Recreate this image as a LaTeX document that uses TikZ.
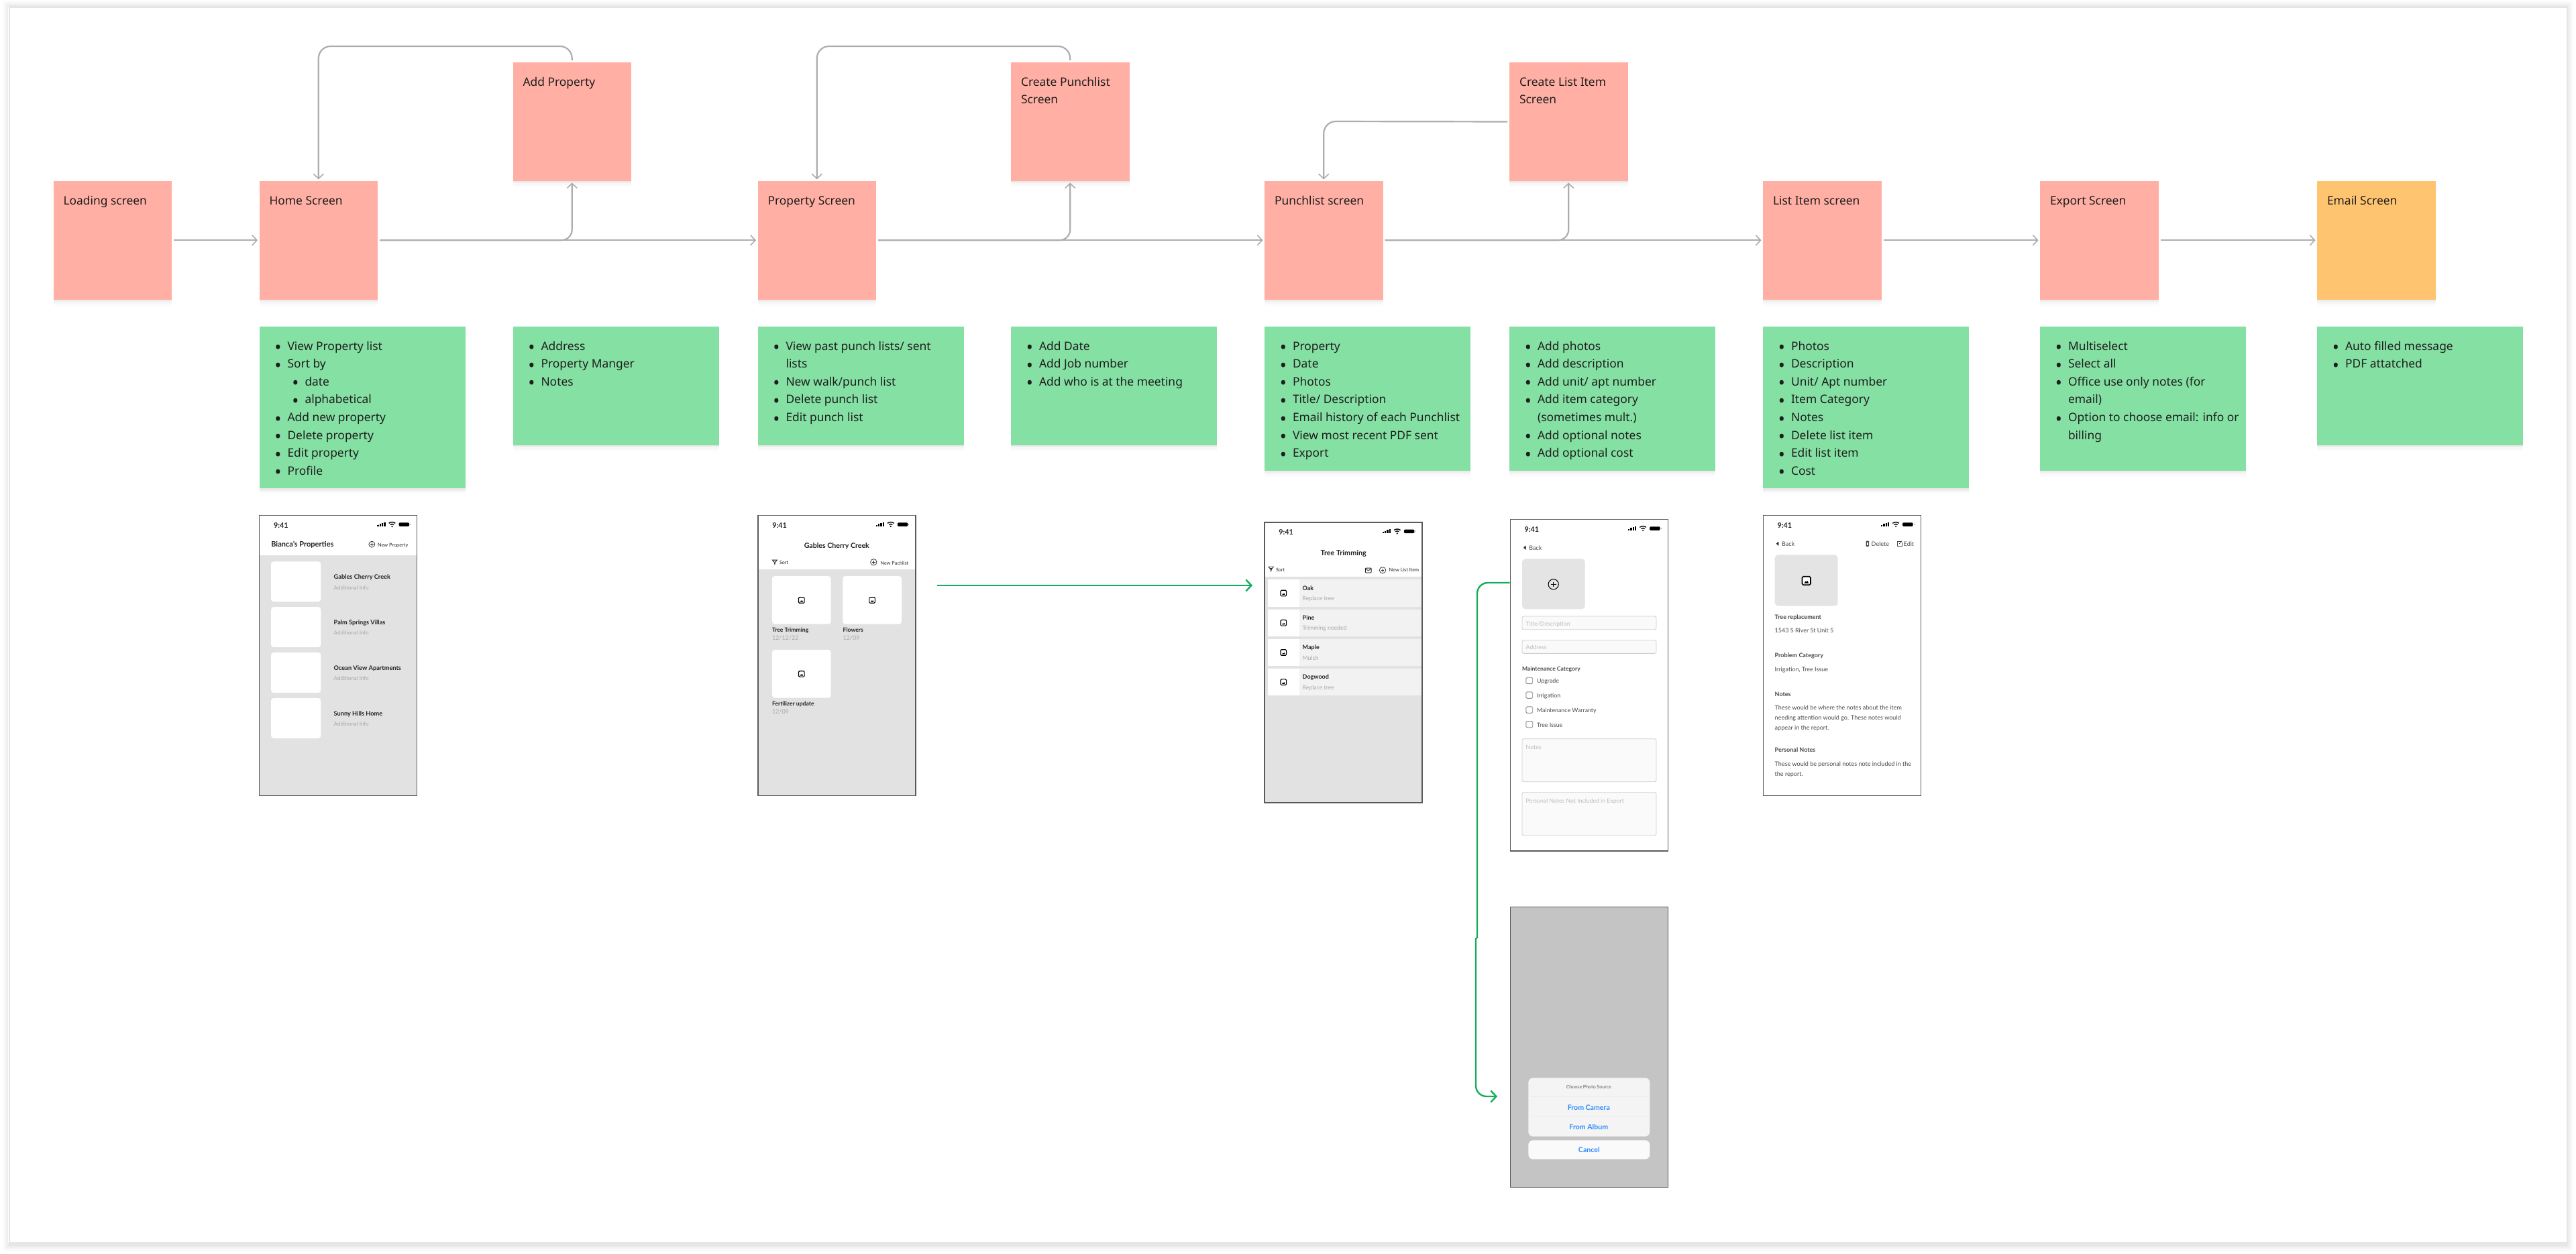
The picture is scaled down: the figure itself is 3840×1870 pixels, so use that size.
\documentclass[tikz,border=0pt]{standalone}
\usepackage{fontspec}
\setmainfont{Noto Sans}
\newfontfamily\latof{Lato}
\usetikzlibrary{arrows.meta}
\definecolor{redsticky}{HTML}{FFAFA3}
\definecolor{greensticky}{HTML}{85E0A3}
\definecolor{orangesticky}{HTML}{FFC470}
\definecolor{inkc}{HTML}{1E1E1E}
\definecolor{connc}{HTML}{ADADAD}
\definecolor{greenc}{HTML}{14AE5C}
\definecolor{phoneb}{HTML}{5A5A5A}
\definecolor{bodyc}{HTML}{E2E2E2}
\definecolor{greyt}{HTML}{A8A8A8}
\definecolor{fieldt}{HTML}{BDBDBD}
\definecolor{fieldb}{HTML}{CFCFCF}
\definecolor{bluet}{HTML}{2D8CFF}
\definecolor{txtd}{HTML}{222222}
\definecolor{txtm}{HTML}{4A4A4A}
\newcounter{lbl}
\newcommand{\lab}[4][]{\stepcounter{lbl}\node[lt,#1] (t\arabic{lbl}) at (#2,#3) {#4};}
\newcommand{\lam}[4][]{\stepcounter{lbl}\node[lc,#1] (t\arabic{lbl}) at (#2,#3) {#4};}
\newcommand{\bigdot}{{\fontsize{27}{10}\selectfont\raisebox{-5.6pt}{•}}}
\newcommand{\Bi}{\strut\hspace*{42pt}\llap{\bigdot\hspace{9pt}}}
\newcommand{\Bii}{\strut\hspace*{68pt}\llap{\bigdot\hspace{9pt}}}
\newcommand{\Bc}{\strut\hspace*{42pt}}
\newcommand{\sticky}[7]{%
  \node[#6,minimum width=#4 pt,minimum height=#5 pt,anchor=north west] (#1) at (#2,#3) {};
  \node[stxt,anchor=north west] (#1T) at (#1.north west) [yshift=-16.5pt] {#7};}
\newcommand{\statusb}[2]{%
  \begin{scope}[shift={(#1,#2)}]
    \lab[font=\latof\bfseries\fontsize{10.8}{12}\selectfont,yshift=-.6pt]{21.3}{14.6}{9:41}
    \foreach \bx/\bh in {175.7/2.5,179/3.8,182.3/5.1,185.6/6.4} \fill[black] (\bx,16.4) rectangle ++(2.4,-\bh);
    \fill[black] (197.8,16.4) circle[radius=1.2];
    \draw[black,line width=1.4] (195.2,13.8) .. controls (196.8,12.5) and (198.8,12.5) .. (200.4,13.8);
    \draw[black,line width=1.4] (193,11.6) .. controls (196,9.4) and (199.6,9.4) .. (202.6,11.6);
    \fill[black,rounded corners=1.4pt] (207.8,10.6) rectangle (223.4,16.2);
    \fill[black!35] (224.2,12.3) rectangle (225,14.5);
  \end{scope}}
\newcommand{\imgicon}[3]{%
  \draw[black,line width=#3*0.13,rounded corners=#3*0.15 pt,fill=white] (#1-#3/2,#2-#3/2) rectangle (#1+#3/2,#2+#3/2);
  \fill[black] (#1-#3*.26,#2+#3*.3) -- (#1-#3*.08,#2+#3*.04) -- (#1+#3*.02,#2+#3*.16) -- (#1+#3*.12,#2) -- (#1+#3*.28,#2+#3*.3) -- cycle;}
\newcommand{\pluscirc}[5][black]{%
  \draw[#1,line width=#4] (#2,#3) circle[radius=#5];
  \draw[#1,line width=#4] (#2-#5*.5,#3) -- (#2+#5*.5,#3) (#2,#3-#5*.5) -- (#2,#3+#5*.5);}
\newcommand{\funnel}[2]{%
  \draw[txtd,line width=.8] (#1,#2-3) -- (#1+7.4,#2-3) -- (#1+4.4,#2+.6) -- (#1+3.7,#2+3.4) -- (#1+3,#2+.6) -- cycle;
  \draw[txtd,line width=.6] (#1+1.5,#2-1.4) -- (#1+5.9,#2-1.4);}
\newcommand{\backtri}[2]{\fill[txtd] (#1,#2) -- (#1+3.6,#2-3.2) -- (#1+3.6,#2+3.2) -- cycle;}
\tikzset{
  softsh/.style={preaction={fill=black,fill opacity=.035,transform canvas={yshift=-1.5pt}},
    preaction={fill=black,fill opacity=.03,transform canvas={yshift=-3.5pt}},
    preaction={fill=black,fill opacity=.02,transform canvas={yshift=-6pt}},
    preaction={fill=black,fill opacity=.012,transform canvas={yshift=-9pt}}},
  notebase/.style={rectangle,inner sep=0pt,outer sep=0pt,softsh},
  rednote/.style={notebase,fill=redsticky},
  greennote/.style={notebase,fill=greensticky},
  orangenote/.style={notebase,fill=orangesticky},
  stxt/.style={inner sep=0pt,outer sep=0pt,text=inkc,align=left,font=\fontsize{17.4}{26.6}\selectfont},
  conn/.style={draw=connc,line width=2.2pt,-{Straight Barb[length=7pt,width=15pt,line width=1.6pt]},shorten <=3pt,shorten >=2.5pt},
  greenline/.style={draw=greenc,line width=2.4pt},
  greenconn/.style={greenline,-{Straight Barb[length=8pt,width=17pt,line width=2.4pt]}},
  phonebox/.style={rectangle,draw=phoneb,line width=1.4pt,inner sep=0pt,outer sep=0pt,anchor=north west,minimum width=235pt},
  lt/.style={inner sep=0pt,outer sep=0pt,anchor=mid west,yshift=-1.1pt,text=txtd,font=\latof\fontsize{9}{10}\selectfont},
  lc/.style={lt,anchor=mid},
  tbold/.style={font=\latof\bfseries\fontsize{#1}{10}\selectfont},
  treg/.style={font=\latof\fontsize{#1}{10}\selectfont},
  thumb/.style={fill=white,rounded corners=4pt},
  grey/.style={text=greyt},
  field/.style={draw=fieldb,line width=.9pt,fill=black!2,rounded corners=2.5pt},
  blueb/.style={text=bluet}
}
\begin{document}
\begin{tikzpicture}[x=1pt,y=-1pt]
\useasboundingbox (0,0) rectangle (3840,1870);
% panel
\foreach \d/\o in {10/.012,8/.016,6/.02,4/.025,2/.03}
  \fill[black,fill opacity=\o,rounded corners=3pt] (14-\d,11-\d) rectangle (3826+\d,1852+\d+4);
\fill[white] (12,10) rectangle (3828,1854);
\draw[black!10,line width=1.5pt,fill=white] (14,11) rectangle (3827,1853);

% ===== stickies
\sticky{loading}{79.5}{270}{176.5}{176.5}{rednote}{\hspace*{15pt}\strut Loading screen}
\sticky{home}{386.5}{270}{176.5}{176.5}{rednote}{\hspace*{15pt}\strut Home Screen}
\sticky{addprop}{764.5}{93}{176.5}{177}{rednote}{\hspace*{15pt}\strut Add Property}
\sticky{propsc}{1129.5}{270}{176.5}{176.5}{rednote}{\hspace*{15pt}\strut Property Screen}
\sticky{createpl}{1507}{93}{176.5}{177}{rednote}{\hspace*{15pt}\strut Create Punchlist\\\hspace*{15pt}\strut Screen}
\sticky{punchsc}{1885}{270}{176.5}{176.5}{rednote}{\hspace*{15pt}\strut Punchlist screen}
\sticky{createli}{2250}{93}{176.5}{177}{rednote}{\hspace*{15pt}\strut Create List Item\\\hspace*{15pt}\strut Screen}
\sticky{listsc}{2628}{270}{176.5}{176.5}{rednote}{\hspace*{15pt}\strut List Item screen}
\sticky{exportsc}{3041}{270}{176.5}{176.5}{rednote}{\hspace*{15pt}\strut Export Screen}
\sticky{emailsc}{3454}{270}{176.5}{176.5}{orangenote}{\hspace*{15pt}\strut Email Screen}

\sticky{ghome}{386.5}{487}{307}{241}{greennote}{\Bi View Property list\\\Bi Sort by\\\Bii date\\\Bii alphabetical\\\Bi Add new property\\\Bi Delete property\\\Bi Edit property\\\Bi Profile}
\sticky{gadd}{764.5}{487}{307}{176.5}{greennote}{\Bi Address\\\Bi Property Manger\\\Bi Notes}
\sticky{gprop}{1129.5}{487}{307}{176.5}{greennote}{\Bi View past punch lists/ sent\\\Bc lists\\\Bi New walk/punch list\\\Bi Delete punch list\\\Bi Edit punch list}
\sticky{gcreate}{1507}{487}{307}{176.5}{greennote}{\Bi Add Date\\\Bi Add Job number\\\Bi Add who is at the meeting}
\sticky{gpunch}{1885}{487}{307}{214.5}{greennote}{\Bi Property\\\Bi Date\\\Bi Photos\\\Bi Title/ Description\\\Bi Email history of each Punchlist\\\Bi View most recent PDF sent\\\Bi Export}
\sticky{gitem}{2250}{487}{307}{214.5}{greennote}{\Bi Add photos\\\Bi Add description\\\Bi Add unit/ apt number\\\Bi Add item category\\\Bc (sometimes mult.)\\\Bi Add optional notes\\\Bi Add optional cost}
\sticky{glist}{2628}{487}{307}{241}{greennote}{\Bi Photos\\\Bi Description\\\Bi Unit/ Apt number\\\Bi Item Category\\\Bi Notes\\\Bi Delete list item\\\Bi Edit list item\\\Bi Cost}
\sticky{gexport}{3041}{487}{307}{214.5}{greennote}{\Bi Multiselect\\\Bi Select all\\\Bi Office use only notes (for\\\Bc email)\\\Bi Option to choose email: info or\\\Bc billing}
\sticky{gemail}{3454}{487}{307}{176.5}{greennote}{\Bi Auto filled message\\\Bi PDF attatched}

% ===== connectors
\coordinate (topA) at (852.7,69);
\coordinate (topB) at (1595.2,69);
\coordinate (sideC) at (1973.2,181);
\draw[conn] (loading) -- (home);
\draw[conn] (home) -- (propsc);
\draw[conn] (propsc) -- (punchsc);
\draw[conn] (punchsc) -- (listsc);
\draw[conn] (listsc) -- (exportsc);
\draw[conn] (exportsc) -- (emailsc);
\draw[conn,rounded corners=16pt,shorten <=3pt] (home.east) -| (addprop.south);
\draw[conn,rounded corners=16pt] (propsc.east) -| (createpl.south);
\draw[conn,rounded corners=16pt] (punchsc.east) -| (createli.south);
\draw[conn,rounded corners=18pt] (addprop.north) -- (topA) -- (home.north |- topA) -- (home.north);
\draw[conn,rounded corners=18pt] (createpl.north) -- (topB) -- (propsc.north |- topB) -- (propsc.north);
\draw[conn,rounded corners=18pt] (createli.west) -- (sideC) -- (punchsc.north);

% ===== phone 1
\fill[bodyc] (386.7,828) rectangle (621.7,1186.7);
\foreach \ty in {837.3,905.2,973.1,1041}
  \fill[thumb] (404,\ty) rectangle (478.3,\ty+60);
\statusb{386.7}{768.7}
\lab[tbold=11]{404.3}{812}{Bianca’s Properties}
\pluscirc[txtd]{554.3}{811.7}{.7}{4.5}
\lab[treg=7.4]{563}{812}{New Property}
\lab[tbold=9.2]{497.7}{859.7}{Gables Cherry Creek}
\lab[treg=8,grey]{497.7}{875.3}{Additional Info}
\lab[tbold=9.2]{497.7}{927.6}{Palm Springs Villas}
\lab[treg=8,grey]{497.7}{943.2}{Additional Info}
\lab[tbold=9.2]{497.7}{995.5}{Ocean View Apartments}
\lab[treg=8,grey]{497.7}{1011.1}{Additional Info}
\lab[tbold=9.2]{497.7}{1063.4}{Sunny Hills Home}
\lab[treg=8,grey]{497.7}{1079}{Additional Info}
\node[phonebox,minimum height=418pt] (phoneA) at (386.7,768.7) {};

% ===== phone 2
\fill[bodyc] (1130,849.3) rectangle (1365,1186.7);
\fill[thumb] (1151,859) rectangle (1238.7,930.7);
\fill[thumb] (1256.3,859) rectangle (1344,930.7);
\fill[thumb] (1151,969) rectangle (1238.7,1040.7);
\imgicon{1194.8}{895}{8.6}
\imgicon{1300.1}{895}{8.6}
\imgicon{1194.8}{1005}{8.6}
\statusb{1130}{768.7}
\lam[tbold=10.6]{1247.3}{814}{Gables Cherry Creek}
\funnel{1151.2}{838}
\lab[treg=7.2]{1162}{838}{Sort}
\pluscirc[txtd]{1302.3}{838.3}{.7}{4.7}
\lab[treg=7.2]{1312.7}{838.6}{New Puchlist}
\lab[tbold=8.6]{1151}{938.7}{Tree Trimming}
\lab[treg=9,grey]{1151}{951}{12/12/22}
\lab[tbold=8.6]{1256.7}{938.7}{Flowers}
\lab[treg=9,grey]{1256.7}{951}{12/09}
\lab[tbold=8.6]{1151}{1048.3}{Fertilizer update}
\lab[treg=9,grey]{1151}{1060.7}{12/09}
\node[phonebox,minimum height=418pt] (phoneB) at (1130,768.7) {};

% ===== phone 3
\fill[bodyc] (1885,860) rectangle (2120,1197);
\foreach \ry in {864.3,908.5,952.7,996.9}{
  \fill[black!5] (1890,\ry) rectangle (2118.7,\ry+40.4);
  \fill[white] (1890,\ry) rectangle (1937,\ry+40.4);
  \imgicon{1913.3}{\ry+20.3}{8.6}
}
\statusb{1885}{779}
\lam[tbold=10.8]{2002.7}{824.3}{Tree Trimming}
\funnel{1891}{848.3}
\lab[treg=7.2]{1902}{848.3}{Sort}
\draw[txtd,line width=1,rounded corners=.8pt] (2035.4,847) rectangle (2044,854);
\draw[txtd,line width=.8] (2035.4,847.8) -- (2039.7,851) -- (2044,847.8);
\pluscirc[txtd]{2061}{850.3}{.7}{4.7}
\lab[treg=7.3]{2070.7}{849}{New List Item}
\lab[tbold=9]{1941.7}{876.3}{Oak}
\lab[treg=8.7,grey]{1941.7}{892}{Replace tree}
\lab[tbold=9]{1941.7}{920.5}{Pine}
\lab[treg=8.7,grey]{1941.7}{936.2}{Trimming needed}
\lab[tbold=9]{1941.7}{964.7}{Maple}
\lab[treg=8.7,grey]{1941.7}{980.4}{Mulch}
\lab[tbold=9]{1941.7}{1008.9}{Dogwood}
\lab[treg=8.7,grey]{1941.7}{1024.6}{Replace tree}
\node[phonebox,minimum height=418pt] (phoneC) at (1885,779) {};

% ===== phone 4
\statusb{2251.3}{774.7}
\backtri{2271}{816.7}
\lab[treg=9,text=txtm]{2279.3}{816.7}{Back}
\fill[black!10.5,rounded corners=5pt] (2269,833.3) rectangle (2362.7,908.3);
\pluscirc{2315.7}{871.3}{1}{7.6}
\draw[field] (2269,919) rectangle (2469,938.7);
\lab[treg=8.8,text=fieldt]{2274.7}{929.3}{Title/Description}
\draw[field] (2269,954.7) rectangle (2469,974.3);
\lab[treg=8.8,text=fieldt]{2274.7}{965}{Address}
\lab[tbold=8.6,text=txtm]{2269}{996.3}{Maintenance Category}
\foreach \cy/\ct in {1015/Upgrade,1036.7/Irrigation,1058.7/Maintenance Warranty,1080.3/Tree Issue}{
  \draw[black!45,line width=.9,rounded corners=1.5pt] (2274.9,\cy-4.8) rectangle (2284.7,\cy+4.6);
  \lab[treg=8.8,text=txtm]{2291}{\cy}{\ct}
}
\draw[field] (2269,1101.7) rectangle (2469,1165.7);
\lab[treg=8.8,text=fieldt]{2274.7}{1113.7}{Notes}
\draw[field] (2269,1181.7) rectangle (2469,1245.7);
\lab[treg=8.7,text=fieldt]{2274.7}{1193.3}{Personal Notes Not Included in Export}
\node[phonebox,minimum height=494.3pt] (phoneD) at (2251.3,774.7) {};

% ===== phone 5
\statusb{2628.3}{768.7}
\backtri{2647.7}{810.7}
\lab[treg=9,text=txtm]{2656}{810.7}{Back}
\fill[txtm,rounded corners=.8pt] (2781.6,806.6) rectangle (2786,815);
\fill[white] (2782.8,809) rectangle (2784.8,813);
\lab[treg=9,text=txtm]{2789.7}{810.7}{Delete}
\draw[txtm,line width=.8] (2833.5,807.6) -- (2828.3,807.6) -- (2828.3,814.4) -- (2835,814.4) -- (2835,809.2);
\draw[txtm,line width=.8] (2831,811) -- (2835.4,806.6);
\lab[treg=9,text=txtm]{2837.7}{810.7}{Edit}
\fill[black!10.5,rounded corners=5pt] (2645.7,827.3) rectangle (2739.7,903.7);
\imgicon{2692.7}{866}{12.6}
\lab[tbold=9,text=txtm]{2645.7}{919.3}{Tree replacement}
\lab[treg=9,text=txtm]{2645.7}{940}{1543 S River St Unit 5}
\lab[tbold=9,text=txtm]{2645.7}{977}{Problem Category}
\lab[treg=9,text=txtm]{2645.7}{997.7}{Irrigation, Tree Issue}
\lab[tbold=9,text=txtm]{2645.7}{1034.3}{Notes}
\lab[treg=9,text=txtm]{2645.7}{1055}{These would be where the notes about the item}
\lab[treg=9,text=txtm]{2645.7}{1070}{needing attention would go. These notes would}
\lab[treg=9,text=txtm]{2645.7}{1084.7}{appear in the report.}
\lab[tbold=9,text=txtm]{2645.7}{1117.7}{Personal Notes}
\lab[treg=9,text=txtm]{2645.7}{1138.3}{These would be personal notes note included in the}
\lab[treg=9,text=txtm]{2645.7}{1153.3}{the report.}
\node[phonebox,minimum height=418pt] (phoneE) at (2628.3,768.7) {};

% ===== phone 6
\node[phonebox,minimum height=418pt,fill=black!23] (phoneF) at (2251.3,1352.7) {};
\fill[black!4.5,rounded corners=7pt] (2278.3,1607.3) rectangle (2459.3,1694.7);
\draw[black!8,line width=.9] (2278.3,1635.7) -- (2459.3,1635.7) (2278.3,1665.3) -- (2459.3,1665.3);
\fill[black!2,rounded corners=7pt] (2278.3,1700.3) rectangle (2459.3,1728.7);
\lam[tbold=7,text=black!50]{2368.3}{1620}{Choose Photo Source}
\lam[tbold=10.6,blueb]{2368.3}{1651.7}{From Camera}
\lam[tbold=10.6,blueb]{2368.3}{1680.7}{From Album}
\lam[tbold=10.6,blueb]{2368.8}{1715}{Cancel}

% ===== green connectors
\coordinate (gA) at (1397,873);
\coordinate (gB) at (1867,873);
\draw[greenconn] (gA) -- (gB);
\coordinate (gC) at (2250.5,869);
\coordinate (gD) at (2202,869);
\coordinate (gE) at (2202,1399);
\coordinate (gF) at (2200,1399);
\coordinate (gG) at (2200,1635);
\coordinate (gH) at (2232,1635);
\draw[greenline,rounded corners=16pt] (gC) -- (gD) -- (gE);
\draw[greenline] (gE) -- (gF);
\draw[greenconn,rounded corners=16pt] (gF) -- (gG) -- (gH);
\end{tikzpicture}
\end{document}
